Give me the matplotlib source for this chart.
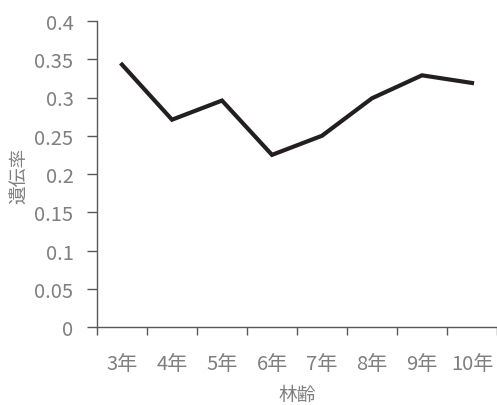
import matplotlib.pyplot as plt
import numpy as np

plt.rcParams['font.family'] = ['Noto Sans CJK JP', 'DejaVu Sans']

# stand age vs heritability
ages = ['3年', '4年', '5年', '6年', '7年', '8年', '9年', '10年']
heritability = [0.343, 0.271, 0.296, 0.225, 0.250, 0.299, 0.329, 0.319]
y_ticks = [0, 0.05, 0.1, 0.15, 0.2, 0.25, 0.3, 0.35, 0.4]
y_tick_labels = ['0', '0.05', '0.1', '0.15', '0.2', '0.25', '0.3', '0.35', '0.4']

label_grey = '#7f7f7f'
axis_grey = '#595959'

fig = plt.figure(figsize=(4.97, 4.06), dpi=100)
ax = fig.add_axes([97/497, 1-328/406, 400/497, 306/406])

x = np.arange(len(ages))
ax.plot(x, heritability, color='#231f20', linewidth=3.0, solid_joinstyle='miter')

ax.set_xlim(-0.5, len(ages)-0.5)
ax.set_ylim(0, 0.4)
ax.set_yticks(y_ticks)
ax.set_yticklabels(y_tick_labels)
ax.set_xticks(x)
ax.set_xticklabels(ages)
ax.set_xticks(np.arange(-0.5, len(ages), 1), minor=True)

for side in ['top', 'right']:
    ax.spines[side].set_visible(False)
for side in ['left', 'bottom']:
    ax.spines[side].set_color(axis_grey)
    ax.spines[side].set_linewidth(1.0)

ax.tick_params(axis='y', direction='out', length=7, width=1, color=axis_grey,
               labelcolor=label_grey, labelsize=14.5, pad=10)
ax.tick_params(axis='x', which='major', length=0, labelcolor=label_grey,
               labelsize=14.5, pad=19)
ax.tick_params(axis='x', which='minor', direction='out', length=6, width=1,
               color=axis_grey)

ax.set_ylabel('遺伝率', color=label_grey, fontsize=13.5, va='center')
ax.set_xlabel('林齢', color=label_grey, fontsize=13.5, va='center')
ax.yaxis.set_label_coords(-0.195, 0.497)
ax.xaxis.set_label_coords(0.5, -0.221)

fig.savefig('out.png', dpi=100)
